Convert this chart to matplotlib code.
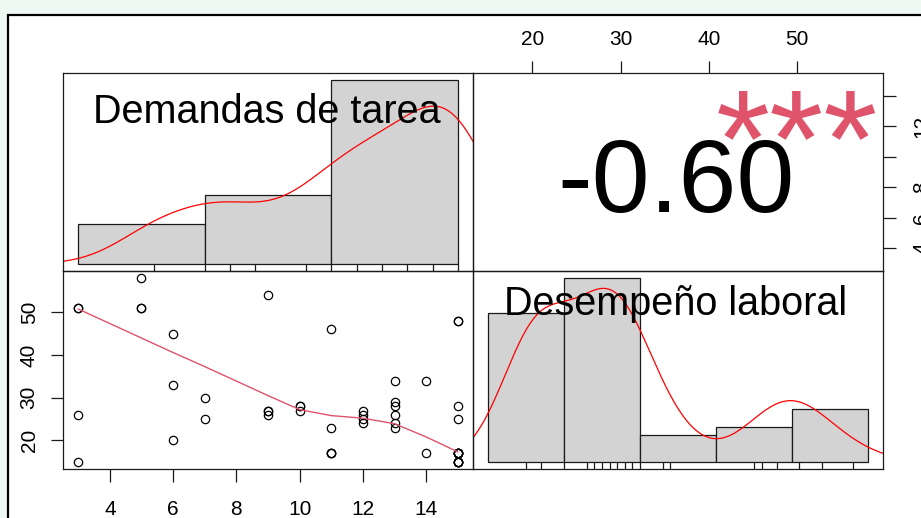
"""
Matriz de correlación (estilo chart.Correlation de R)
Demandas de tarea vs Desempeño laboral
"""
import numpy as np
import matplotlib.pyplot as plt
from matplotlib.patches import Rectangle

plt.rcParams['font.family'] = ['Liberation Sans', 'DejaVu Sans']

# Datos (51 observaciones, varias se superponen)
demandas = [3, 3, 3, 3, 5, 5, 5,
            6, 6, 6, 7, 7, 9, 9, 9, 9, 10, 10, 10,
            11, 11, 11, 11, 11, 12, 12, 12, 12, 13, 13, 13, 13, 13, 13,
            14, 14,
            15, 15, 15, 15, 15, 15, 15, 15, 15, 15, 15, 15, 15, 15, 15]
desempeno = [51, 51, 26, 15, 58, 51, 51,
             45, 33, 20, 30, 25, 54, 27, 27, 26, 28, 28, 27,
             46, 23, 17, 17, 17, 27, 26, 25, 24, 34, 29, 28, 26, 24, 23,
             34, 17,
             48, 48, 28, 25, 17, 17, 17, 17, 17, 17, 15, 15, 15, 15, 15]

dem_breaks = [0, 5, 10, 15]
des_breaks = [10, 20, 30, 40, 50, 60]

# curva suavizada (lowess) del panel de dispersión
smooth_x = [3, 5, 6, 7, 9, 10, 11, 12, 13, 14, 15]
smooth_y = [50.8, 44.0, 40.6, 37.3, 30.5, 27.2, 25.8, 25.2, 23.9, 20.8, 17.3]

labels = ['Demandas de tarea', 'Desempeño laboral']
corr_txt = '-0.60'
signif_txt = '***'

bottom_ticks = [4, 6, 8, 10, 12, 14]
left_ticks = [20, 30, 40, 50]
top_ticks = [20, 30, 40, 50]
right_ticks = [4, 6, 8, 10, 12, 14]
right_tick_labels = ['4', '6', '8', '', '12', '']

LINE = '#1a1a1a'


def rlim(v):
    lo, hi = min(v), max(v)
    d = (hi - lo) * 0.04
    return lo - d, hi + d


def bw_nrd0(x):
    sd = x.std(ddof=1)
    q75, q25 = np.percentile(x, [75, 25])
    return 0.9 * min(sd, (q75 - q25) / 1.34) * len(x) ** -0.2


def kde(x):
    x = np.asarray(x, float)
    bw = bw_nrd0(x)
    grid = np.linspace(x.min() - 3 * bw, x.max() + 3 * bw, 512)
    z = (grid[:, None] - x[None, :]) / bw
    dens = np.exp(-0.5 * z ** 2).sum(axis=1) / (len(x) * bw * np.sqrt(2 * np.pi))
    return grid, dens


def hist_panel(ax, x, breaks):
    x = np.asarray(x, float)
    breaks = np.asarray(breaks, float)
    # intervalos cerrados por la derecha, como hist() de R
    idx = np.clip(np.searchsorted(breaks, x, side='left'), 1, len(breaks) - 1)
    counts = np.bincount(idx - 1, minlength=len(breaks) - 1)
    widths = np.diff(breaks)
    dens = counts / (len(x) * widths)
    ax.bar(breaks[:-1], dens, width=widths, align='edge',
           color='#d3d3d3', edgecolor=LINE, linewidth=0.9)
    gx, gy = kde(x)
    ax.plot(gx, gy, color='red', linewidth=0.9)
    ax.vlines(np.unique(x), 0, 0.035, transform=ax.get_xaxis_transform(),
              color=LINE, linewidth=0.9)
    ax.set_xlim(rlim(breaks))
    ax.set_ylim(rlim([0, dens.max()]))
    ax.set_xticks([])
    ax.set_yticks([])


fig = plt.figure(figsize=(9.21, 5.18), dpi=100, facecolor='#eef9f4')
fig.add_artist(Rectangle((8 / 921, -0.05), 1.0, (518 - 15) / 518 + 0.05,
                         transform=fig.transFigure, facecolor='white',
                         edgecolor='black', linewidth=1.6, zorder=0))

L, W, XM = 63 / 921, 410 / 921, 473 / 921
H = 198 / 518
YB, YT = (518 - 469) / 518, (518 - 271) / 518

ax11 = fig.add_axes([L, YT, W, H])
ax12 = fig.add_axes([XM, YT, W, H])
ax21 = fig.add_axes([L, YB, W, H])
ax22 = fig.add_axes([XM, YB, W, H])

for ax in (ax11, ax12, ax21, ax22):
    for s in ax.spines.values():
        s.set_linewidth(0.9)
        s.set_color(LINE)
    ax.set_facecolor('none')

# 1. Diagonal: histogramas
hist_panel(ax11, demandas, dem_breaks)
hist_panel(ax22, desempeno, des_breaks)
ax11.text(0.498, 0.746, labels[0], transform=ax11.transAxes, ha='center',
          va='baseline', fontsize=28.5, color='black')
ax22.text(0.494, 0.778, labels[1], transform=ax22.transAxes, ha='center',
          va='baseline', fontsize=28.5, color='black')

# 2. Dispersión
ax21.plot(demandas, desempeno, linestyle='none', marker='o', markersize=6,
          markerfacecolor='none', markeredgecolor='black', markeredgewidth=0.9)
ax21.plot(smooth_x, smooth_y, color='#DF536B', linewidth=1.0)
ax21.set_xlim(rlim(demandas))
ax21.set_ylim(rlim(desempeno))
ax21.set_xticks(bottom_ticks)
ax21.set_yticks(left_ticks)
ax21.tick_params(axis='x', length=9, width=0.9, pad=13, labelsize=15, color=LINE)
ax21.tick_params(axis='y', length=9, width=0.9, pad=8.5, labelsize=15, color=LINE)
for lab in ax21.get_yticklabels():
    lab.set_rotation(90)
    lab.set_va('center')

# 3. Coeficiente de correlación
ax12.set_xlim(rlim(desempeno))
ax12.set_ylim(rlim(demandas))
ax12.xaxis.tick_top()
ax12.yaxis.tick_right()
ax12.set_xticks(top_ticks)
ax12.set_yticks(right_ticks, right_tick_labels)
ax12.tick_params(axis='x', length=9, width=0.9, pad=8.5, labelsize=15, color=LINE)
ax12.tick_params(axis='y', length=9, width=0.9, pad=12, labelsize=15, color=LINE)
for lab in ax12.get_yticklabels():
    lab.set_rotation(90)
    lab.set_va('center')
ax12.text(0.495, 0.30, corr_txt, transform=ax12.transAxes, ha='center',
          va='baseline', fontsize=75, color='black')
ax12.text(0.791, 0.427, signif_txt, transform=ax12.transAxes, ha='center',
          va='baseline', fontsize=100, color='#DF536B')

fig.savefig('out.png', dpi=100, facecolor=fig.get_facecolor())
